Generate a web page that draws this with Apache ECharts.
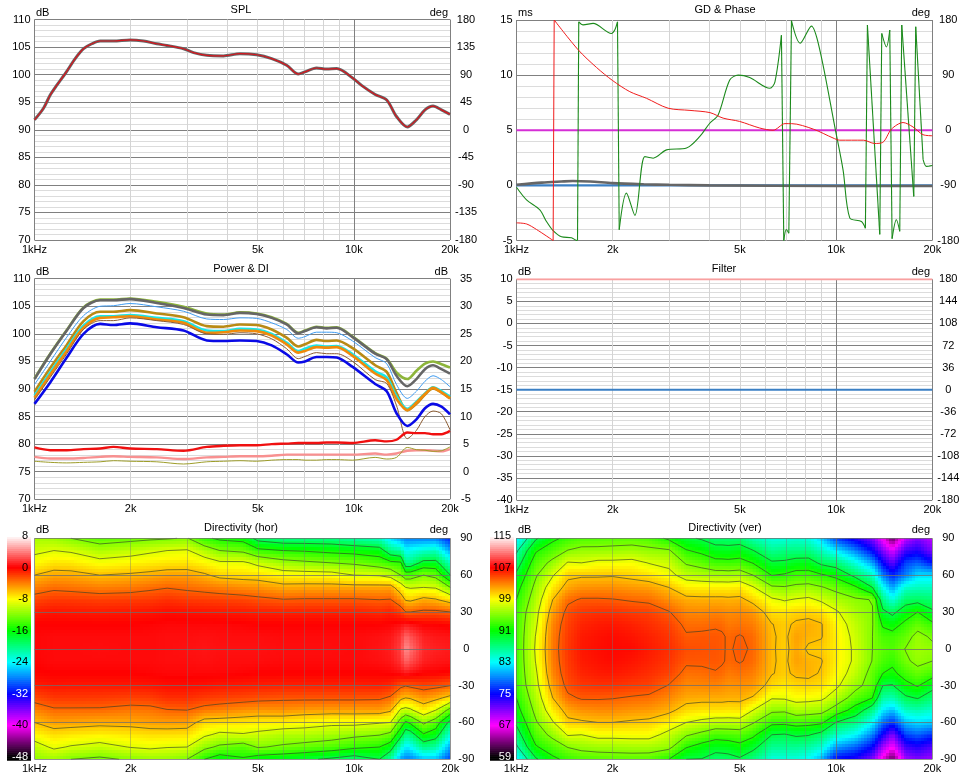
<!DOCTYPE html>
<html lang="en">
<head>
<meta charset="UTF-8">
<title>Speaker measurements</title>
<script src="https://cdn.jsdelivr.net/npm/echarts@6/dist/echarts.min.js"></script>
<style>
  * { margin: 0; padding: 0; box-sizing: border-box; }
  body { background: #fff; }
  #chart { width: 966px; height: 779px; }
</style>
</head>
<body>
<div id="chart"></div>
<script>
// frequency axis, shared by all six panels
const gridFreqs = [1000, 2000, 3000, 4000, 5000, 6000, 7000, 8000, 9000, 10000, 20000];
const labelFreqs = [1000, 2000, 5000, 10000, 20000];
const freqLabels = ['1kHz', '2k', '5k', '10k', '20k'];

// SPL panel
const splFreq = [1000, 1067, 1120, 1175, 1262, 1341, 1424, 1512, 1605, 1767, 1992, 2193, 2415, 2595, 2929, 3146, 3463, 3906, 4400, 4960, 5530, 6160, 6700, 7030, 7640, 8220, 8840, 9910, 10600, 11660, 12670, 13600, 14700, 15700, 16700, 17700, 18800, 20000];
const splDb = [91.8, 93.9, 96.3, 98.1, 100.6, 102.9, 104.7, 105.6, 106.1, 106.1, 106.3, 106.1, 105.6, 105.3, 104.7, 104, 103.5, 103.4, 103.8, 103.6, 102.9, 101.7, 100.1, 100.5, 101.2, 101, 101.1, 99.4, 98, 96.4, 95.4, 92.4, 90.5, 91.8, 93.6, 94.3, 93.6, 92.8];

// GD & Phase panel
const gdFreq = [1000, 1075, 1155, 1302, 1312, 1559, 1779, 2000, 2262, 2550, 2980, 3490, 4030, 4430, 4990, 5770, 6350, 6920, 7250, 8490, 9780, 10270, 12170, 13200, 14000, 14900, 16200, 17400, 18700, 20000];
const gdMs = [-3.4, -3.5, -4, -5, 15, 12.3, 10.7, 9.5, 8.5, 7.9, 7, 6.8, 6.6, 6.1, 5.8, 5.2, 5, 5.6, 5.6, 5.1, 4.3, 4.1, 4.1, 3.8, 3.9, 5.1, 5.7, 5.3, 4.6, 4.5];
const phaseFreq = [1000, 1075, 1183, 1241, 1302, 1383, 1486, 1548, 1552, 1566, 1616, 1737, 1982, 2029, 2070, 2096, 2208, 2347, 2520, 2676, 2948, 3404, 3747, 4024, 4275, 4647, 4938, 5367, 6204, 6437, 6744, 6860, 6985, 7114, 7250, 7720, 8371, 8895, 9904, 10517, 11034, 12000, 12350, 12532, 13698, 13895, 14370, 14720, 14970, 15443, 15820, 16050, 17500, 17750, 18720, 19170, 20000];
const phaseDeg = [-93, -113.6, -130, -149, -164, -174, -175.5, -180, -180, 177, 172, 174.5, 158, 163.6, 177, -162.5, -102.7, -139, -43, -45.6, -32, -29, -10, 11.4, 25, 82, 90, 86, 68.5, 79, 155, -180, -162, -168, 178.8, 142, 170, 131, 6, -65, -143, -149, -160, 171.7, -170, 158, 136, 163.6, -177, -146, -165, 171.7, -108, 169, -48, -59, -57.6];
const gdGreyFreq = [1000, 1200, 1380, 1500, 1700, 2000, 2500, 3000, 4000, 10000, 20000];
const gdGreyMs = [0.05, 0.25, 0.35, 0.4, 0.35, 0.2, 0.1, 0.05, 0, -0.05, -0.05];
const flatFreq = [1000, 20000];
const gdBlueMs = [0, 0];
const phaseMagentaDeg = [0, 0];

// Power & DI panel
const powerFreq = [1000, 1120, 1262, 1424, 1605, 1767, 1992, 2415, 2929, 3463, 3906, 4400, 4960, 5530, 6160, 6700, 7030, 7640, 8220, 8840, 9910, 11660, 12670, 13600, 14700, 15700, 16700, 17700, 18800, 20000];
const limeDb = [91.9, 96.4, 100.7, 104.8, 106.2, 106.2, 106.4, 105.8, 104.9, 103.7, 103.5, 103.9, 103.7, 103, 101.8, 100.2, 100.6, 101.3, 101.1, 101.2, 99.5, 96.5, 95.5, 93, 91.8, 93.3, 94.6, 95, 94.5, 93.9];
const greyDb = [91.8, 96.3, 100.6, 104.7, 106.1, 106.1, 106.3, 105.6, 104.7, 103.5, 103.4, 103.8, 103.6, 102.9, 101.7, 100.1, 100.5, 101.2, 101, 101.1, 99.4, 96.4, 95.4, 92.4, 90.5, 91.8, 93.6, 94.3, 93.6, 92.8];
const skyDb = [90.8, 95, 99.4, 103.3, 105, 105.1, 105.5, 104.9, 104.1, 102.7, 102.6, 102.9, 102.8, 102, 100.8, 99.2, 99.5, 100.3, 100.3, 100.2, 98.7, 95.7, 94.6, 90.8, 88.3, 89.6, 91.4, 92.4, 91.7, 90.4];
const goldDb = [89.5, 93.8, 98, 102.3, 104, 104, 104.3, 103.7, 103, 101.4, 101.3, 101.7, 101.6, 100.8, 99.3, 97.7, 98.1, 98.9, 98.7, 98.8, 97.4, 94.3, 93.1, 89.3, 86.1, 87.3, 89, 90.1, 89.4, 88.3];
const cyanDb = [88.8, 93, 97.3, 101.5, 103.2, 103.2, 103.4, 102.9, 102.3, 100.6, 100.5, 100.9, 100.8, 100, 98.4, 96.9, 97.3, 97.9, 97.7, 97.8, 96.3, 93.2, 92.1, 88.7, 86.4, 87.7, 89.2, 90.3, 89.6, 88.6];
const orangeDb = [88.4, 92.6, 96.9, 101.1, 102.9, 103, 103.2, 102.6, 102, 100.2, 100.3, 100.6, 100.5, 99.7, 98.1, 96.6, 96.9, 97.6, 97.5, 97.6, 96, 92.8, 91.6, 88.2, 86.2, 87.5, 89.1, 90.2, 89.4, 88.3];
const brownDb = [88, 92.1, 96.4, 100.8, 102.4, 102.4, 102.9, 102.4, 101.7, 100, 99.9, 100.2, 100, 99.1, 97.3, 95.5, 95.9, 96.6, 96.4, 96.4, 95, 91.7, 91, 87, 81, 82.5, 85, 86, 85.5, 82.6];
const blueDb = [87.3, 91.2, 95.7, 100, 101.8, 101.6, 101.9, 101.2, 100.6, 98.8, 98.7, 98.8, 98.7, 97.9, 96.3, 94.8, 95, 95.8, 95.8, 95.7, 94, 90.9, 89.6, 85.6, 83.3, 84.5, 86.5, 87.3, 86.8, 85.4];
const redDi = [4.4, 3.9, 3.9, 4.1, 4.2, 4.5, 4.2, 4.1, 3.8, 4.5, 4.7, 4.8, 4.8, 5, 5.1, 5.2, 5.2, 5.2, 5.3, 5.3, 5.2, 5.7, 5.5, 5.8, 7.1, 7, 7, 6.8, 6.8, 7.4];
const pinkDi = [2.7, 2.4, 2.4, 2.5, 2.7, 2.8, 2.7, 2.6, 2.3, 2.6, 2.7, 2.8, 2.8, 2.9, 3.1, 3.1, 3.1, 3.1, 3.1, 3.1, 3.1, 3.3, 3.1, 3.3, 3.8, 3.9, 3.9, 3.8, 3.7, 4.1];
const oliveDi = [1.9, 1.7, 1.6, 1.7, 1.8, 2, 1.9, 1.8, 1.4, 1.8, 1.9, 2, 1.9, 2.1, 2.2, 2.2, 2.1, 2.1, 2.2, 2.2, 2.1, 2.6, 2.3, 2.6, 4.4, 4, 3.9, 3.7, 3.8, 4.5];

// Filter panel
const filterGainDb = [10, 10];
const filterPhaseDeg = [0, 0];

// directivity maps: one list per frequency, angles running +90 to -90
const dirAngles = [90, 80, 70, 60, 50, 40, 30, 20, 10, 0, -10, -20, -30, -40, -50, -60, -70, -80, -90];
const horFreq = [1000, 1150, 1300, 1600, 2000, 2300, 2600, 3000, 3400, 3800, 4500, 5000, 6000, 7000, 8500, 10000, 12000, 13000, 14000, 14500, 15000, 16500, 18000, 20000];
const horDb = [
  [-10.8, -9.5, -8, -6, -4, -2.2, -0.8, 0, 0.2, 0.2, 0.1, -0.1, -0.9, -2.3, -4.1, -6, -7.9, -10, -11.5],
  [-11, -9, -7.2, -5.2, -3.4, -1.8, -0.6, 0, 0.3, 0.3, 0.3, 0, -0.6, -1.7, -3.3, -5, -7, -8.6, -11],
  [-12, -9.3, -7.3, -5.3, -3.6, -1.8, -0.7, 0, 0.3, 0.3, 0.3, 0, -0.7, -1.7, -3.3, -5.1, -7.3, -9.2, -12],
  [-13.2, -10.6, -8.2, -6, -4, -2, -0.8, 0, 0.3, 0.4, 0.3, 0, -0.7, -1.8, -3.3, -5.4, -7.6, -9.8, -12.5],
  [-12.7, -10, -7.8, -5.7, -3.8, -1.9, -0.7, 0, 0.3, 0.3, 0.3, 0, -0.7, -2, -3.7, -5.3, -7.3, -8.9, -11.7],
  [-12.4, -9.4, -7.5, -5.4, -3.4, -1.8, -0.6, 0.1, 0.3, 0.3, 0.3, 0.1, -0.6, -1.9, -3.6, -5, -7, -8.6, -11.2],
  [-12.2, -9, -7.3, -5, -3.1, -1.5, -0.4, 0.2, 0.4, 0.4, 0.4, 0.2, -0.4, -1.4, -3.1, -4.9, -7, -8.9, -11.3],
  [-11.8, -8.8, -7.2, -5, -3.4, -1.8, -0.5, 0.2, 0.4, 0.5, 0.4, 0.2, -0.4, -1.4, -3, -5, -7.1, -9, -12],
  [-14.5, -10.4, -7.8, -5.7, -3.7, -1.9, -0.6, 0.2, 0.5, 0.6, 0.5, 0.2, -0.5, -1.8, -3.7, -6.9, -8.6, -11.3, -15],
  [-15.5, -12, -8.6, -6.6, -4, -2, -0.7, 0.2, 0.4, 0.5, 0.4, 0.2, -0.7, -2, -4, -7, -9.5, -12.5, -16.5],
  [-16, -12.5, -8.6, -6.9, -4.4, -2.2, -0.8, 0.1, 0.4, 0.5, 0.4, 0.1, -0.8, -2.2, -4.5, -7.2, -9.2, -13.3, -15.3],
  [-19, -14.3, -9.6, -7, -4.6, -2.5, -0.9, 0, 0.4, 0.5, 0.4, 0, -0.9, -2.4, -4.7, -7.4, -9.6, -11.8, -16.5],
  [-20, -15, -11, -7.8, -5.3, -2.9, -1, 0, 0.3, 0.4, 0.3, 0, -1, -2.6, -4.6, -7.5, -10.4, -12.4, -17],
  [-20, -15.2, -11.5, -7.9, -5.2, -2.8, -1, 0, 0.3, 0.4, 0.3, 0, -1, -2.6, -4.9, -7.9, -10.4, -12.9, -17.5],
  [-20, -15.7, -12, -8, -5.2, -2.8, -1, 0, 0.3, 0.4, 0.3, 0, -1, -2.6, -5, -8.4, -10.8, -13.5, -18.5],
  [-21, -16, -12.4, -9, -5.2, -2.8, -1, 0, 0.3, 0.3, 0.3, 0, -1, -2.6, -5, -8.3, -11.4, -14.4, -19.5],
  [-22, -16.5, -13.5, -9.2, -5.2, -3, -1.3, 0, 0.5, 0.6, 0.5, 0, -0.9, -2.7, -4.9, -8.8, -11.9, -15, -18],
  [-25, -20, -14.3, -9.9, -5.1, -2.9, -1, 0.1, 0.7, 0.9, 0.7, 0.1, -1.2, -3.3, -5.7, -9, -12.7, -16.5, -21],
  [-27, -21, -14.6, -12, -7.5, -4.5, -1.8, 0.4, 1.6, 2, 1.6, 0.4, -2.5, -5.5, -9.4, -13.3, -17, -22, -27],
  [-28, -24, -20, -13.4, -9, -6.2, -3, 0.8, 3.2, 4.5, 3.2, 0.8, -2.9, -6, -9.8, -15.5, -20, -24.5, -28],
  [-28, -23.5, -20, -13.3, -9.2, -6.4, -3, 0.5, 2.5, 3.5, 2.5, 0.5, -2.6, -5.8, -9.4, -14.5, -19.5, -24, -28],
  [-28, -22.5, -17, -12, -9, -5.4, -2.6, 0, 1, 1.3, 1, 0, -2.1, -4.7, -7.4, -11.5, -15.3, -20, -26],
  [-28, -22, -17, -12.8, -9.2, -5.8, -2.6, 0, 0.7, 1, 0.7, 0, -2.4, -5.4, -9, -13.4, -16.5, -21, -26],
  [-31, -27, -22, -18, -12, -7, -3, -0.2, 0.6, 0.8, 0.6, -0.2, -3, -6.7, -13, -19, -23, -27, -30]
];
const verFreq = [1000, 1150, 1300, 1450, 1600, 1800, 2000, 2300, 2600, 3000, 3400, 3800, 4200, 4400, 4600, 5000, 5500, 6300, 6900, 7500, 8200, 9000, 10000, 11500, 13000, 14000, 15000, 16500, 18000, 20000];
const verDb = [
  [82.5, 85.5, 87.5, 89.5, 91, 92, 92.8, 93, 93, 93, 93, 93, 92.8, 92, 91, 89.5, 87.5, 85.5, 82.5],
  [88.6, 91.7, 93.5, 94.7, 95.7, 96.5, 97.2, 97.6, 98.1, 98.3, 98.1, 97.6, 97.2, 96.5, 95.7, 94.7, 93.5, 91.7, 88.6],
  [91.4, 93.5, 95.7, 97.8, 99.6, 101, 102, 102.8, 103.1, 103.2, 103.1, 102.8, 102, 101, 99.6, 97.8, 95.7, 93.5, 91.4],
  [92.7, 95.1, 98.2, 100.5, 101.8, 103.6, 104.6, 105, 105.2, 105.3, 105.2, 105, 104.6, 103.6, 101.8, 100.5, 98.2, 95.1, 92.7],
  [93.4, 95.7, 98, 100.7, 102.4, 104.2, 105.3, 105.9, 106.2, 106.3, 106.2, 105.9, 105.3, 104.2, 102.5, 100.7, 98, 95.7, 93.4],
  [93.5, 95.7, 98.6, 100.7, 102.5, 104.2, 105.5, 106.2, 106.5, 106.6, 106.5, 106.2, 105.5, 104.2, 102.7, 101, 98.8, 96, 93.6],
  [93.7, 95.8, 98.6, 100.8, 102.5, 104.1, 105.5, 106.3, 106.7, 106.8, 106.7, 106.3, 105.5, 104.1, 102.7, 101, 98.8, 96, 93.8],
  [93.8, 96, 98.8, 100.4, 102.2, 103.8, 105.2, 106, 106.4, 106.7, 106.4, 106, 105.2, 103.8, 102.4, 100.7, 98.9, 96.2, 93.8],
  [93.4, 95.6, 97.9, 99.9, 102, 103.6, 105, 105.6, 106, 106.2, 106, 105.6, 105, 103.6, 102.2, 100.5, 98.9, 96.2, 93.7],
  [91.5, 95.3, 97.4, 98.7, 101, 102.5, 104.1, 105, 105.4, 105.6, 105.4, 105, 103.9, 102.8, 101.5, 99.5, 97.2, 95.7, 92],
  [89.5, 92.2, 94.7, 97, 99.5, 101.6, 102.8, 103.6, 104.2, 104.6, 104.3, 103.5, 102.7, 101.7, 100.2, 98, 95.3, 92.2, 89],
  [88.7, 91.3, 93.9, 96.6, 99.4, 101.5, 102.7, 103.6, 104.3, 104.5, 104.3, 103.6, 102.8, 101.6, 99.9, 97.4, 94.3, 90.9, 88.9],
  [87.6, 90.2, 92.9, 96.3, 99.4, 101.5, 102.9, 103.8, 104.3, 104.4, 104.3, 103.9, 102.9, 101.6, 99.9, 96.9, 93.2, 90.2, 87.6],
  [87.7, 90.1, 92.9, 96.3, 99.4, 101.5, 102.8, 103.7, 104.2, 104.2, 104.15, 103.7, 102.7, 101.6, 99.9, 96.9, 93.3, 90.3, 87.7],
  [87.6, 90, 92.8, 96.2, 99.4, 101.4, 102.6, 103.2, 103.8, 103.8, 103.8, 103.2, 102.4, 101.5, 99.8, 96.9, 93.4, 90.4, 87.9],
  [87.6, 90.4, 93, 96.4, 99.6, 101.5, 102.7, 103.4, 104.1, 104.3, 104.1, 103.5, 102.5, 101.5, 99.9, 97, 93.6, 91.2, 88.6],
  [85.5, 89.1, 91.9, 95, 98.2, 100.4, 102.3, 103.1, 103.7, 103.8, 103.7, 103.1, 102.3, 100.8, 98, 95.2, 92.6, 89.8, 87],
  [84, 86.5, 89.4, 91.9, 95.4, 98.4, 100, 101.05, 101.2, 101.2, 101.2, 101.1, 100.2, 98.2, 95.5, 92.7, 89, 86.5, 84],
  [84, 87, 89.5, 92.3, 95.2, 97.8, 99.9, 100.6, 100.6, 100.5, 100.6, 100.6, 99.7, 98.3, 95.4, 92.6, 88.8, 86.5, 84],
  [84.5, 87, 90.2, 93.1, 95.6, 98.2, 100.3, 101.3, 102, 101.8, 102, 101.4, 100.2, 98.9, 96.4, 93.1, 89.4, 86.5, 84],
  [84, 87, 90.3, 93.1, 95.8, 98.5, 100.3, 101.6, 101.4, 100.7, 101.4, 101.5, 100.3, 98.8, 96.2, 92.9, 89.2, 86, 83],
  [81.5, 85, 88.4, 92.3, 95.2, 97.6, 100, 101.1, 101.1, 100.6, 101.1, 100.8, 100, 98.5, 95.9, 92.5, 88, 84.5, 80.5],
  [77, 82.5, 87.5, 91.3, 94.2, 96.4, 98.3, 99.2, 99.5, 99.5, 99.5, 99.2, 98.5, 96.7, 93.8, 88.9, 85, 80, 75],
  [74, 79, 84, 88.2, 92.4, 95.4, 96.3, 97, 97.4, 97.6, 97.6, 97, 95.8, 93.8, 90.8, 87, 83, 78, 74],
  [71, 75, 80, 85, 89, 94.9, 95.1, 95.1, 95, 95, 94.9, 94, 93.8, 92, 87, 83, 79, 75, 71],
  [67, 71, 75, 79, 83.5, 87, 89.6, 91.6, 93.2, 93.9, 93.3, 92, 89, 86, 82.5, 78.5, 74.5, 70, 66],
  [62, 68, 72, 76, 80, 84, 88.3, 90.8, 93, 93.4, 92.6, 91.4, 88.8, 85.5, 81, 76.5, 71, 67, 62],
  [69, 73, 77, 79, 84.5, 87.8, 90.5, 92.7, 94, 95.1, 94.6, 93.1, 91.2, 88.5, 85, 81, 77, 73, 70],
  [71, 74, 78, 82, 85, 88, 92, 94, 95.8, 96, 95.6, 94.2, 92.2, 89.2, 85.5, 82, 78, 74, 71],
  [69, 71, 75.5, 82, 85, 87.5, 89.4, 92.6, 94.6, 95.6, 95, 93.2, 90, 87.4, 84.5, 81.5, 76.5, 72.5, 70]
];
const horLevels = [-3, -6, -9, -12, -15, -18];
const verLevels = [104, 101, 98, 95, 92, 89];
const verCornerLevels = [86];
const verCornerBelowHz = 1400;
const horBarTicks = [8, 0, -8, -16, -24, -32, -40, -48];
const verBarTicks = [115, 107, 99, 91, 83, 75, 67, 59];
const whiteBarLabels = [-32, -48, 75, 59];

// colour scale, in dB relative to the red point
const rampDb = [8, 4, 0, -4, -8, -12, -16, -20, -24, -28, -32, -36, -40, -44, -48];
const rampRgb = [[255, 255, 255], [255, 128, 128], [255, 0, 0], [255, 128, 0], [255, 255, 0], [128, 255, 0], [0, 255, 0], [0, 255, 128], [0, 255, 255], [0, 128, 255], [0, 0, 255], [128, 0, 255], [255, 0, 255], [128, 0, 128], [0, 0, 0]];

function rampColor(db) {
  if (db >= rampDb[0]) return 'rgb(255,255,255)';
  for (let i = 1; i < rampDb.length; i++) {
    if (db >= rampDb[i]) {
      const t = (db - rampDb[i]) / (rampDb[i - 1] - rampDb[i]);
      const c = rampRgb[i].map((v, k) => Math.round(v + (rampRgb[i - 1][k] - v) * t));
      return 'rgb(' + c.join(',') + ')';
    }
  }
  return 'rgb(0,0,0)';
}

const FONT = 'Liberation Sans';
const panels = [
  { left: 34.5, right: 450, top: 19.5, bottom: 240, lmin: 70, lmax: 110, lstep: 5, rmin: -180, rmax: 180, rstep: 45 },
  { left: 516.5, right: 932.3, top: 20, bottom: 240.5, lmin: -5, lmax: 15, lstep: 5, rmin: -180, rmax: 180, rstep: 90 },
  { left: 34.5, right: 450, top: 278.7, bottom: 499.3, lmin: 70, lmax: 110, lstep: 5, rmin: -5, rmax: 35, rstep: 5 },
  { left: 516.5, right: 932.3, top: 279.3, bottom: 500, lmin: -40, lmax: 10, lstep: 5, rmin: -180, rmax: 180, rstep: 36 },
  { left: 34.5, right: 450.3, top: 538.3, bottom: 759.3, lmin: -90, lmax: 90, lstep: 30, rmin: -90, rmax: 90, rstep: 30, map: true },
  { left: 516.3, right: 932.3, top: 538.3, bottom: 759.3, lmin: -90, lmax: 90, lstep: 30, rmin: -90, rmax: 90, rstep: 30, map: true }
];

const grids = [], xAxes = [], yAxes = [], series = [];

panels.forEach(function (p, i) {
  const major = p.map ? 'rgba(110,110,110,0.75)' : '#808080';
  const light = p.map ? 'rgba(120,120,120,0.4)' : '#d4d4d4';
  const axisZ = p.map ? 4 : 0;   // map gridlines sit over the shading
  grids.push({ left: p.left, top: p.top, width: p.right - p.left, height: p.bottom - p.top });
  xAxes.push({
    type: 'log', logBase: 10, gridIndex: i, min: 1000, max: 20000, z: axisZ,
    axisLine: { show: false },
    axisTick: { show: false, customValues: gridFreqs },
    axisLabel: {
      customValues: labelFreqs, margin: 4, fontFamily: FONT, fontSize: 11, color: '#000', hideOverlap: false,
      formatter: function (v) { return freqLabels[labelFreqs.indexOf(Math.round(v))]; }
    },
    splitLine: {
      show: true,
      lineStyle: { width: 1, color: gridFreqs.map(f => (f === 1000 || f >= 10000) ? major : light) }
    }
  });
  yAxes.push({
    type: 'value', gridIndex: i, position: 'left', min: p.lmin, max: p.lmax, interval: p.lstep, z: axisZ,
    axisLine: { show: false }, axisTick: { show: false },
    axisLabel: { show: !p.map, margin: 4, fontFamily: FONT, fontSize: 11, color: '#000' },
    splitLine: { show: true, lineStyle: { color: major, width: 1 } },
    minorTick: { show: false, splitNumber: 5 },
    minorSplitLine: { show: !p.map, lineStyle: { color: '#dcdcdc', width: 1 } }
  });
  yAxes.push({
    type: 'value', gridIndex: i, position: 'right', min: p.rmin, max: p.rmax, interval: p.rstep,
    axisLine: { show: false }, axisTick: { show: false },
    axisLabel: { margin: 16, align: 'center', fontFamily: FONT, fontSize: 11, color: '#000' },
    splitLine: { show: false }
  });
});

function lineSeries(panel, useRight, freq, vals, color, width, smooth) {
  return {
    type: 'line', xAxisIndex: panel, yAxisIndex: panel * 2 + (useRight ? 1 : 0),
    data: freq.map((f, i) => [f, vals[i]]),
    symbol: 'none', smooth: smooth ? 0.3 : false, silent: true,
    lineStyle: { color: color, width: width }
  };
}

// wrapped curves: smooth between the jumps, straight across them
function wrappedSeries(panel, useRight, freq, vals, jump, color, width) {
  let start = 0;
  for (let i = 1; i <= freq.length; i++) {
    if (i === freq.length || Math.abs(vals[i] - vals[i - 1]) >= jump) {
      series.push(lineSeries(panel, useRight, freq.slice(start, i), vals.slice(start, i), color, width, true));
      if (i < freq.length) {
        series.push(lineSeries(panel, useRight, freq.slice(i - 1, i + 1), vals.slice(i - 1, i + 1), color, width));
      }
      start = i;
    }
  }
}

// SPL
series.push(lineSeries(0, false, splFreq, splDb, '#666666', 3, true));
series.push(lineSeries(0, false, splFreq, splDb, '#d8141c', 1.2, true));

// GD & Phase
series.push(lineSeries(1, false, flatFreq, gdBlueMs, '#3a7fc4', 2.4));
series.push(lineSeries(1, true, flatFreq, phaseMagentaDeg, '#d52ed5', 2));
series.push(lineSeries(1, false, gdGreyFreq, gdGreyMs, '#666666', 2.6, true));
wrappedSeries(1, true, phaseFreq, phaseDeg, 200, '#1c8a1c', 1.1);
wrappedSeries(1, false, gdFreq, gdMs, 10, '#f01c1c', 1);

// Power & DI
series.push(lineSeries(2, false, powerFreq, limeDb, '#8db53a', 2.6, true));
series.push(lineSeries(2, false, powerFreq, greyDb, '#666666', 2.6, true));
series.push(lineSeries(2, false, powerFreq, skyDb, '#3f9bf0', 1, true));
series.push(lineSeries(2, false, powerFreq, goldDb, '#b98a14', 2.6, true));
series.push(lineSeries(2, false, powerFreq, cyanDb, '#19e6e6', 2.6, true));
series.push(lineSeries(2, false, powerFreq, orangeDb, '#f08a0a', 2.6, true));
series.push(lineSeries(2, false, powerFreq, brownDb, '#8a5a30', 1, true));
series.push(lineSeries(2, false, powerFreq, blueDb, '#0a0ae6', 2.6, true));
series.push(lineSeries(2, true, powerFreq, redDi, '#f01010', 2.4, true));
series.push(lineSeries(2, true, powerFreq, pinkDi, '#f89090', 2.4, true));
series.push(lineSeries(2, true, powerFreq, oliveDi, '#9c9c28', 1, true));

// Filter
series.push(lineSeries(3, false, flatFreq, filterGainDb, '#f8a0a0', 2));
series.push(lineSeries(3, true, flatFreq, filterPhaseDeg, '#3a7fc4', 2));

// maps: every data item is one cell between neighbouring measured values
function mapCells(freq, grid) {
  const cells = [];
  for (let i = 0; i < freq.length - 1; i++) {
    for (let j = 0; j < dirAngles.length - 1; j++) {
      cells.push([freq[i], freq[i + 1], dirAngles[j], dirAngles[j + 1], grid[i][j], grid[i + 1][j], grid[i + 1][j + 1], grid[i][j + 1]]);
    }
  }
  return cells;
}

function cellCorners(api) {
  const a = api.coord([api.value(0), api.value(2)]);
  const b = api.coord([api.value(1), api.value(3)]);
  return { x0: a[0], y0: a[1], x1: b[0], y1: b[1], v: [api.value(4), api.value(5), api.value(6), api.value(7)] };
}

// colour is blended across a cell only for display, the series keep the read values
function shadeItem(zeroDb) {
  return function (params, api) {
    const c = cellCorners(api);
    const children = [];
    const xa = Math.round(c.x0), xb = Math.round(c.x1), ya = Math.round(c.y0), yb = Math.round(c.y1);
    const step = 3;
    for (let x = xa; x < xb; x += step) {
      const w = Math.min(step, xb - x);
      const tx = (x + w / 2 - c.x0) / (c.x1 - c.x0);
      for (let y = ya; y < yb; y += step) {
        const h = Math.min(step, yb - y);
        const ty = (y + h / 2 - c.y0) / (c.y1 - c.y0);
        const top = c.v[0] + (c.v[1] - c.v[0]) * tx;
        const bot = c.v[3] + (c.v[2] - c.v[3]) * tx;
        children.push({
          type: 'rect', shape: { x: x, y: y, width: w, height: h },
          style: { fill: rampColor(top + (bot - top) * ty - zeroDb) }
        });
      }
    }
    return { type: 'group', children: children };
  };
}

function contourItem(levels, cornerLevels, cornerHz) {
  return function (params, api) {
    const c = cellCorners(api);
    const px = [[c.x0, c.y0], [c.x1, c.y0], [c.x1, c.y1], [c.x0, c.y1]];
    const children = [];
    const todo = api.value(0) < cornerHz ? levels.concat(cornerLevels) : levels;
    todo.forEach(function (level) {
      const hits = [];
      for (let e = 0; e < 4; e++) {
        const n = (e + 1) % 4;
        const v1 = c.v[e], v2 = c.v[n];
        if ((v1 >= level) !== (v2 >= level)) {
          const t = (level - v1) / (v2 - v1);
          hits.push([px[e][0] + (px[n][0] - px[e][0]) * t, px[e][1] + (px[n][1] - px[e][1]) * t]);
        }
      }
      for (let k = 0; k + 1 < hits.length; k += 2) {
        children.push({
          type: 'line',
          shape: { x1: hits[k][0], y1: hits[k][1], x2: hits[k + 1][0], y2: hits[k + 1][1] },
          style: { stroke: 'rgba(50,60,40,0.62)', lineWidth: 1 }
        });
      }
    });
    return { type: 'group', children: children };
  };
}

function addMap(panel, freq, grid, zeroDb, levels, cornerLevels, cornerHz) {
  const cells = mapCells(freq, grid);
  const base = {
    type: 'custom', coordinateSystem: 'cartesian2d', xAxisIndex: panel, yAxisIndex: panel * 2,
    data: cells, encode: { x: [0, 1], y: [2, 3] }, silent: true, clip: false, progressive: 0
  };
  series.push(Object.assign({}, base, { renderItem: shadeItem(zeroDb), z: 1 }));
  series.push(Object.assign({}, base, { renderItem: contourItem(levels, cornerLevels, cornerHz), z: 3 }));
}
addMap(4, horFreq, horDb, 0, horLevels, [], 0);
addMap(5, verFreq, verDb, 107, verLevels, verCornerLevels, verCornerBelowHz);

// colour bars left of the maps
function addBar(left, ticks, zeroDb) {
  const g = grids.length, ya = yAxes.length;
  grids.push({ left: left, top: 536, width: 24, height: 221 });
  xAxes.push({ type: 'value', gridIndex: g, min: 0, max: 1, show: false });
  yAxes.push({
    type: 'value', gridIndex: g, position: 'right', min: ticks[ticks.length - 1], max: ticks[0], z: 4,
    axisLine: { show: false }, axisTick: { show: false }, splitLine: { show: false },
    axisLabel: {
      customValues: ticks, inside: true, margin: 3, fontFamily: FONT, fontSize: 11,
      color: v => whiteBarLabels.includes(Math.round(v)) ? '#fff' : '#000'
    }
  });
  const steps = [];
  for (let db = 7.2; db > -49.2; db -= 0.5) steps.push([db + zeroDb]);
  series.push({
    type: 'custom', coordinateSystem: 'cartesian2d', xAxisIndex: g, yAxisIndex: ya,
    data: steps, encode: { y: 0 }, silent: true, clip: false, z: 1,
    renderItem: function (params, api) {
      const v = api.value(0);
      const a = api.coord([0, v + 0.5]), b = api.coord([1, v]);
      return {
        type: 'rect', shape: { x: a[0], y: a[1], width: b[0] - a[0], height: b[1] - a[1] + 0.6 },
        style: { fill: rampColor(v + 0.25 - zeroDb) }
      };
    }
  });
}
addBar(7, horBarTicks, 0);
addBar(490, verBarTicks, 107);

// panel headings and unit captions
function caption(text, x, y, align) {
  return {
    text: text, left: x, top: y, textAlign: align, textVerticalAlign: 'middle', padding: 0,
    textStyle: { fontFamily: FONT, fontSize: 11, fontWeight: 'normal', color: '#000' }
  };
}
const captions = [
  caption('SPL', 241, 10, 'center'), caption('dB', 36, 13, 'left'), caption('deg', 448, 13, 'right'),
  caption('GD & Phase', 725, 10, 'center'), caption('ms', 518, 13, 'left'), caption('deg', 930, 13, 'right'),
  caption('Power & DI', 241, 269, 'center'), caption('dB', 36, 272, 'left'), caption('dB', 448, 272, 'right'),
  caption('Filter', 724, 269, 'center'), caption('dB', 518, 272, 'left'), caption('deg', 930, 272, 'right'),
  caption('Directivity (hor)', 241, 528, 'center'), caption('dB', 36, 530, 'left'), caption('deg', 448, 530, 'right'),
  caption('Directivity (ver)', 725, 528, 'center'), caption('dB', 518, 530, 'left'), caption('deg', 930, 530, 'right')
];

const chart = echarts.init(document.getElementById('chart'), null, { renderer: 'canvas' });
chart.setOption({
  animation: false,
  backgroundColor: '#ffffff',
  title: captions,
  grid: grids,
  xAxis: xAxes,
  yAxis: yAxes,
  series: series
});
</script>
</body>
</html>
